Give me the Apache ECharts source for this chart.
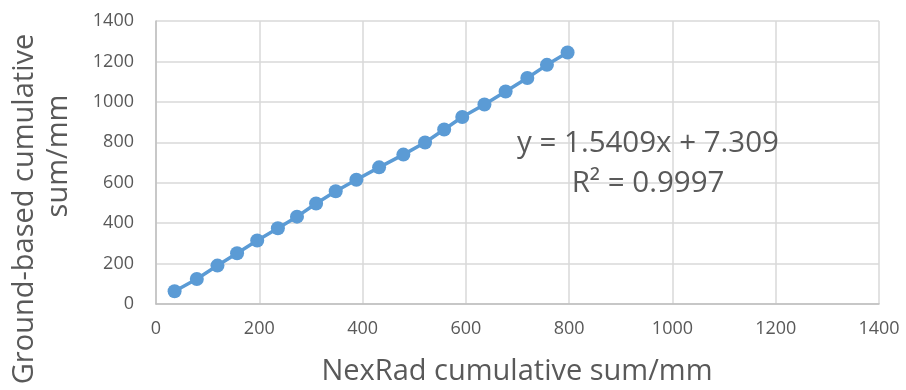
<!DOCTYPE html>
<html>
<head>
<meta charset="utf-8">
<script src="https://cdn.jsdelivr.net/npm/echarts@6/dist/echarts.min.js"></script>
<style>
  html, body { margin: 0; padding: 0; background: #ffffff; }
  #chart { width: 906px; height: 390px; }
</style>
</head>
<body>
<div id="chart"></div>
<script>
// NexRad vs ground-based cumulative rainfall (mm)
const nexradSum = [36, 79, 119, 157, 196, 236, 273, 310, 348, 388, 432, 479, 521, 558, 593, 636, 677, 719, 757, 797];
const groundSum = [63, 124, 190, 251, 314, 375, 432, 497, 558, 615, 676, 739, 799, 863, 925, 987, 1051, 1118, 1183, 1244];
const xTicks = [0, 200, 400, 600, 800, 1000, 1200, 1400];
const yTicks = [0, 200, 400, 600, 800, 1000, 1200, 1400];
const xTitle = 'NexRad cumulative sum/mm';
const yTitleLines = ['Ground-based cumulative', 'sum/mm'];
const fitLines = ['y = 1.5409x + 7.309', 'R² = 0.9997'];

const FONT = '"Open Sans", sans-serif';
const TEXT = '#595959';
const BLUE = '#5B9BD5';

const points = nexradSum.map((x, i) => [x, groundSum[i]]);

const chart = echarts.init(document.getElementById('chart'), null, { renderer: 'canvas' });

const axisCommon = {
  type: 'value',
  axisLine: { show: true, lineStyle: { color: '#BFBFBF', width: 1.5 } },
  axisTick: { show: false },
  splitLine: { show: true, lineStyle: { color: '#D9D9D9', width: 1.5 } },
  axisLabel: { color: TEXT, fontFamily: FONT, fontSize: 18, formatter: v => String(v) }
};

chart.setOption({
  animation: false,
  backgroundColor: '#ffffff',
  grid: { left: 156, right: 27, top: 21, bottom: 86, containLabel: false },
  xAxis: Object.assign({}, axisCommon, {
    min: xTicks[0], max: xTicks[xTicks.length - 1], interval: xTicks[1] - xTicks[0],
    axisLabel: Object.assign({}, axisCommon.axisLabel, { margin: 16 })
  }),
  yAxis: Object.assign({}, axisCommon, {
    min: yTicks[0], max: yTicks[yTicks.length - 1], interval: yTicks[1] - yTicks[0],
    axisLabel: Object.assign({}, axisCommon.axisLabel, { margin: 22 })
  }),
  series: [{
    type: 'line',
    data: points,
    symbol: 'circle',
    symbolSize: 14,
    itemStyle: { color: BLUE },
    lineStyle: { color: BLUE, width: 3.5 },
    z: 5
  }],
  graphic: [
    {
      type: 'text', x: 517, y: 372, style: {
        text: xTitle, fill: TEXT, font: '29px ' + FONT,
        textAlign: 'center', textVerticalAlign: 'middle'
      }
    },
    {
      type: 'text', x: 25, y: 209, rotation: Math.PI / 2, style: {
        text: yTitleLines[0], fill: TEXT, font: '29px ' + FONT,
        textAlign: 'center', textVerticalAlign: 'middle'
      }
    },
    {
      type: 'text', x: 59, y: 156, rotation: Math.PI / 2, style: {
        text: yTitleLines[1], fill: TEXT, font: '29px ' + FONT,
        textAlign: 'center', textVerticalAlign: 'middle'
      }
    },
    {
      type: 'text', x: 648, y: 144, z: 10, style: {
        text: fitLines[0], fill: TEXT, font: '29.5px ' + FONT,
        textAlign: 'center', textVerticalAlign: 'middle'
      }
    },
    {
      type: 'text', x: 648, y: 184, z: 10, style: {
        text: fitLines[1], fill: TEXT, font: '29.5px ' + FONT,
        textAlign: 'center', textVerticalAlign: 'middle'
      }
    }
  ]
});
</script>
</body>
</html>
